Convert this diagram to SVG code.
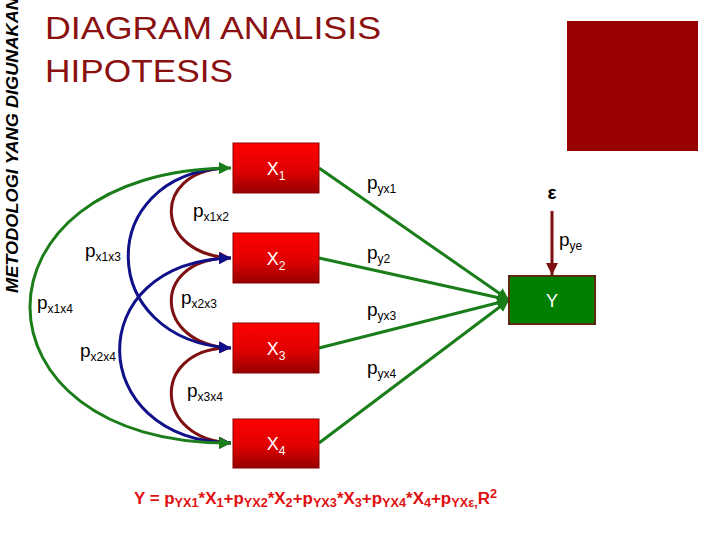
<svg xmlns="http://www.w3.org/2000/svg" width="720" height="540" viewBox="0 0 720 540">
<style>
.title{font-family:"Liberation Sans",Arial,sans-serif;font-size:32px;fill:#8b1010}
.side{font-family:"Liberation Sans",Arial,sans-serif;font-size:17px;font-weight:bold;font-style:italic;fill:#000}
.lbl{font-family:"Liberation Sans",Arial,sans-serif;font-size:19px;fill:#000}
.sub{font-size:12px}
.box{fill:url(#rg);stroke:#8b0000;stroke-width:1}
.bt{font-family:"Liberation Sans",Arial,sans-serif;font-size:18px;fill:#fff;text-anchor:middle}
.bsub{font-size:12px}
.g{fill:none;stroke:#1a7d1a;stroke-width:3}
.b{fill:none;stroke:#10108a;stroke-width:3}
.r{fill:none;stroke:#7d1010;stroke-width:3}
.eq{font-family:"Liberation Sans",Arial,sans-serif;font-size:16px;font-weight:bold;fill:#e01010}
.es{font-size:12px}
</style>
<defs>
<linearGradient id="rg" x1="0" y1="0" x2="0" y2="1">
<stop offset="0" stop-color="#ff0000"/>
<stop offset="0.55" stop-color="#e00000"/>
<stop offset="1" stop-color="#960000"/>
</linearGradient>
<marker id="ag" markerUnits="userSpaceOnUse" markerWidth="14" markerHeight="12" refX="12" refY="6" orient="auto"><path d="M0,0 L12,6 L0,12 z" fill="#1a7d1a"/></marker>
<marker id="ab" markerUnits="userSpaceOnUse" markerWidth="14" markerHeight="12" refX="12" refY="6" orient="auto"><path d="M0,0 L12,6 L0,12 z" fill="#10108a"/></marker>
<marker id="ar" markerUnits="userSpaceOnUse" markerWidth="14" markerHeight="12" refX="12" refY="6" orient="auto"><path d="M0,0 L12,6 L0,12 z" fill="#7d1010"/></marker>
<marker id="agS" markerUnits="userSpaceOnUse" markerWidth="14" markerHeight="12" refX="12" refY="6" orient="auto-start-reverse"><path d="M0,0 L12,6 L0,12 z" fill="#1a7d1a"/></marker>
<marker id="abS" markerUnits="userSpaceOnUse" markerWidth="14" markerHeight="12" refX="12" refY="6" orient="auto-start-reverse"><path d="M0,0 L12,6 L0,12 z" fill="#10108a"/></marker>
</defs>
<rect width="720" height="540" fill="#fff"/>
<text class="side" transform="translate(18,293) rotate(-90)" textLength="296" lengthAdjust="spacingAndGlyphs">METODOLOGI YANG DIGUNAKAN</text>
<text class="title" x="45" y="39" textLength="336" lengthAdjust="spacingAndGlyphs">DIAGRAM ANALISIS</text>
<text class="title" x="45" y="82" textLength="188" lengthAdjust="spacingAndGlyphs">HIPOTESIS</text>
<rect id="square" x="567" y="21" width="131" height="130" fill="#990000"/>
<g id="connectors">
<path class="r" d="M225,168 C150,172 155,255 231,258" marker-end="url(#ar)"/>
<path class="r" d="M225,258 C150,262 155,345 231,348" marker-end="url(#ar)"/>
<path class="r" d="M225,348 C150,352 155,440 231,443" marker-end="url(#ar)"/>
<path class="b" d="M225,168 C95,175 95,340 231,348" marker-end="url(#ab)"/>
<path class="b" d="M231,258 C80,262 85,440 231,443" marker-start="url(#abS)" marker-end="url(#ab)"/>
<path class="g" d="M231,168 C-37,170 -37,445 231,443" marker-start="url(#agS)" marker-end="url(#agS)"/>
<path class="g" d="M319,168 L509,300" marker-end="url(#ag)"/>
<path class="g" d="M319,258 L509,300" marker-end="url(#ag)"/>
<path class="g" d="M319,348 L509,300" marker-end="url(#ag)"/>
<path class="g" d="M319,443 L509,300" marker-end="url(#ag)"/>
<path class="r" d="M552,211 L552,275" marker-end="url(#ar)"/>
</g>
<g id="labels">
<text class="lbl" x="193" y="217">p<tspan class="sub" dy="4">x1x2</tspan></text>
<text class="lbl" x="85" y="257">p<tspan class="sub" dy="4">x1x3</tspan></text>
<text class="lbl" x="37" y="309">p<tspan class="sub" dy="4">x1x4</tspan></text>
<text class="lbl" x="181" y="304">p<tspan class="sub" dy="4">x2x3</tspan></text>
<text class="lbl" x="80" y="357">p<tspan class="sub" dy="4">x2x4</tspan></text>
<text class="lbl" x="187" y="397">p<tspan class="sub" dy="4">x3x4</tspan></text>
<text class="lbl" x="367" y="189">p<tspan class="sub" dy="4">yx1</tspan></text>
<text class="lbl" x="367" y="259">p<tspan class="sub" dy="4">y2</tspan></text>
<text class="lbl" x="367" y="316">p<tspan class="sub" dy="4">yx3</tspan></text>
<text class="lbl" x="367" y="374">p<tspan class="sub" dy="4">yx4</tspan></text>
<text class="lbl" x="559" y="246">p<tspan class="sub" dy="4">ye</tspan></text>
<text class="lbl" x="552" y="199" text-anchor="middle" font-weight="bold" font-size="16">ε</text>
</g>
<g id="X1"><rect class="box" x="233" y="143" width="86" height="50"/><text class="bt" x="276" y="175">X<tspan class="bsub" dy="5">1</tspan></text></g>
<g id="X2"><rect class="box" x="233" y="233" width="86" height="50"/><text class="bt" x="276" y="265">X<tspan class="bsub" dy="5">2</tspan></text></g>
<g id="X3"><rect class="box" x="233" y="323" width="86" height="50"/><text class="bt" x="276" y="355">X<tspan class="bsub" dy="5">3</tspan></text></g>
<g id="X4"><rect class="box" x="233" y="419" width="86" height="49"/><text class="bt" x="276" y="450">X<tspan class="bsub" dy="5">4</tspan></text></g>
<g id="Y"><rect x="509" y="276" width="86" height="48" fill="#008000" stroke="#5a2a0a" stroke-width="2"/><text class="bt" x="552" y="307" font-size="17">Y</text></g>
<text class="eq" x="134" y="504" textLength="363" lengthAdjust="spacingAndGlyphs">Y = p<tspan class="es" dy="3">YX1</tspan><tspan dy="-3">*X</tspan><tspan class="es" dy="3">1</tspan><tspan dy="-3">+p</tspan><tspan class="es" dy="3">YX2</tspan><tspan dy="-3">*X</tspan><tspan class="es" dy="3">2</tspan><tspan dy="-3">+p</tspan><tspan class="es" dy="3">YX3</tspan><tspan dy="-3">*X</tspan><tspan class="es" dy="3">3</tspan><tspan dy="-3">+p</tspan><tspan class="es" dy="3">YX4</tspan><tspan dy="-3">*X</tspan><tspan class="es" dy="3">4</tspan><tspan dy="-3">+p</tspan><tspan class="es" dy="3">YXε,</tspan><tspan dy="-3">R</tspan><tspan class="es" dy="-6">2</tspan></text>
</svg>
